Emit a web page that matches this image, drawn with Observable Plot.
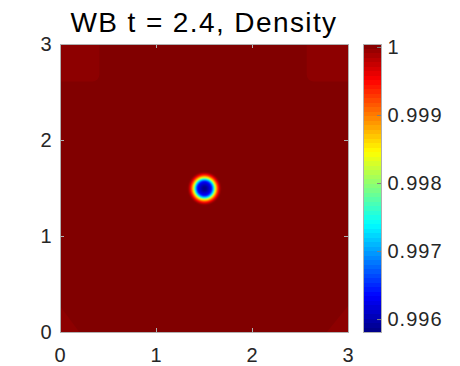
<!DOCTYPE html>
<html>
<head>
<meta charset="utf-8">
<script src="https://cdn.jsdelivr.net/npm/d3@7"></script>
<script src="https://cdn.jsdelivr.net/npm/@observablehq/plot@0.6"></script>
<style>
  html, body { margin: 0; padding: 0; background: #fff; }
  #wrap { position: relative; width: 460px; height: 366px; overflow: hidden; background: #fff; }
  #wrap svg { position: absolute; left: 0; top: 0; }
  #title { position: absolute; left: 0; top: 9px; width: 408px; text-align: center;
           font-family: "Liberation Sans", Arial, sans-serif; font-size: 28px; line-height: 28px;
           letter-spacing: 1.4px; color: #000; white-space: nowrap; }
</style>
</head>
<body>
<div id="wrap"><div id="title">WB t = 2.4, Density</div></div>
<script>
// ---- data ----
const titleText = "WB t = 2.4, Density";
const xTicks = [0, 1, 2, 3];
const yTicks = [0, 1, 2, 3];
const cbTicks = [0.996, 0.997, 0.998, 0.999, 1];
const colorMin = 0.99581;
const colorMax = 1.000044;
const jetStops = [0, 0.125, 0.375, 0.625, 0.875, 1];
const jetColors = ["#000083", "#0000ff", "#00ffff", "#ffff00", "#ff0000", "#800000"];
const blobCenterX = 1.5;
const blobCenterY = 1.5;
// radial density profile of the dip (radius in domain units -> density)
const profileR = [0, 0.02, 0.042, 0.07, 0.085, 0.097, 0.106, 0.115, 0.129, 0.146, 0.16, 0.175, 0.2];
const profileD = [0.99581, 0.99588, 0.99606, 0.99634, 0.99685, 0.99740, 0.99793, 0.99846, 0.99899, 0.99952, 0.99985, 1.00003, 1.00004];
const cornerDensity = 0.99999;
// top corner patches (domain units)
const patchX1 = [-0.3, 2.57];
const patchX2 = [0.41, 3.3];
const patchY1 = [2.61, 2.61];
const patchY2 = [3.3, 3.3];
// bottom corner triangles
const triId = ["bl", "bl", "br", "br"];
const triX = [0, 0.2, 2.78, 3];
const triY = [0.27, 0, 0, 0.27];

// ---- tables built from the arrays ----
const patches = patchX1.map((x1, i) => ({x1, x2: patchX2[i], y1: patchY1[i], y2: patchY2[i], d: cornerDensity}));
const tris = triX.map((x, i) => ({id: triId[i], x, y: triY[i], d: cornerDensity}));
const profile = d3.scaleLinear(profileR, profileD).clamp(true);
const densityAt = (x, y) => profile(Math.hypot(x - blobCenterX, y - blobCenterY));

const color = {
  type: "linear",
  domain: jetStops.map(f => colorMin + f * (colorMax - colorMin)),
  range: jetColors,
  interpolate: "rgb",
  clamp: true
};
const font = "Liberation Sans, Arial, sans-serif";
const tickLen = 4 / 96;
const gray = "#b0b0b0";

const main = Plot.plot({
  width: 360, height: 366,
  marginLeft: 60, marginRight: 12, marginTop: 44, marginBottom: 34,
  x: {domain: [0, 3]},
  y: {domain: [0, 3]},
  color,
  style: {fontFamily: font, fontSize: "20px", color: "#262626", background: "transparent", letterSpacing: "1px"},
  marks: [
    Plot.raster({x1: 0, x2: 3, y1: 0, y2: 3, width: 288, height: 288, fill: densityAt}),
    Plot.rect(patches, {x1: "x1", x2: "x2", y1: "y1", y2: "y2", fill: "d", rx: 7, clip: "frame"}),
    Plot.areaY(tris, {x: "x", y1: 0, y2: "y", z: "id", fill: "d", clip: "frame"}),
    Plot.frame({stroke: gray}),
    Plot.ruleX(xTicks.slice(1, -1), {y1: 0, y2: tickLen, stroke: gray}),
    Plot.ruleX(xTicks.slice(1, -1), {y1: 3 - tickLen, y2: 3, stroke: gray}),
    Plot.ruleY(yTicks.slice(1, -1), {x1: 0, x2: tickLen, stroke: gray}),
    Plot.ruleY(yTicks.slice(1, -1), {x1: 3 - tickLen, x2: 3, stroke: gray}),
    Plot.axisX(xTicks, {tickSize: 0, tickPadding: 15, label: null, tickFormat: d => String(d)}),
    Plot.axisY(yTicks, {tickSize: 0, tickPadding: 8, label: null, tickFormat: d => String(d)})
  ]
});

const cb = Plot.plot({
  width: 460, height: 366,
  marginLeft: 363, marginRight: 79, marginTop: 44, marginBottom: 34,
  x: {domain: [0, 1], axis: null},
  y: {domain: [colorMin, colorMax]},
  color,
  style: {fontFamily: font, fontSize: "20px", color: "#262626", background: "transparent", letterSpacing: "1px"},
  marks: [
    Plot.raster({x1: 0, x2: 1, y1: colorMin, y2: colorMax, width: 1, height: 64, fill: (x, y) => y, imageRendering: "pixelated"}),
    Plot.frame({stroke: gray}),
    Plot.ruleY(cbTicks, {x1: 0.78, x2: 1, stroke: "#808080"}),
    Plot.axisY(cbTicks, {anchor: "right", tickSize: 0, tickPadding: 6, label: null,
      tickFormat: d => d === 1 ? "1" : d.toFixed(3)})
  ]
});
cb.style.pointerEvents = "none";

const wrap = document.getElementById("wrap");
document.getElementById("title").textContent = titleText;
wrap.appendChild(main);
wrap.appendChild(cb);
</script>
</body>
</html>
